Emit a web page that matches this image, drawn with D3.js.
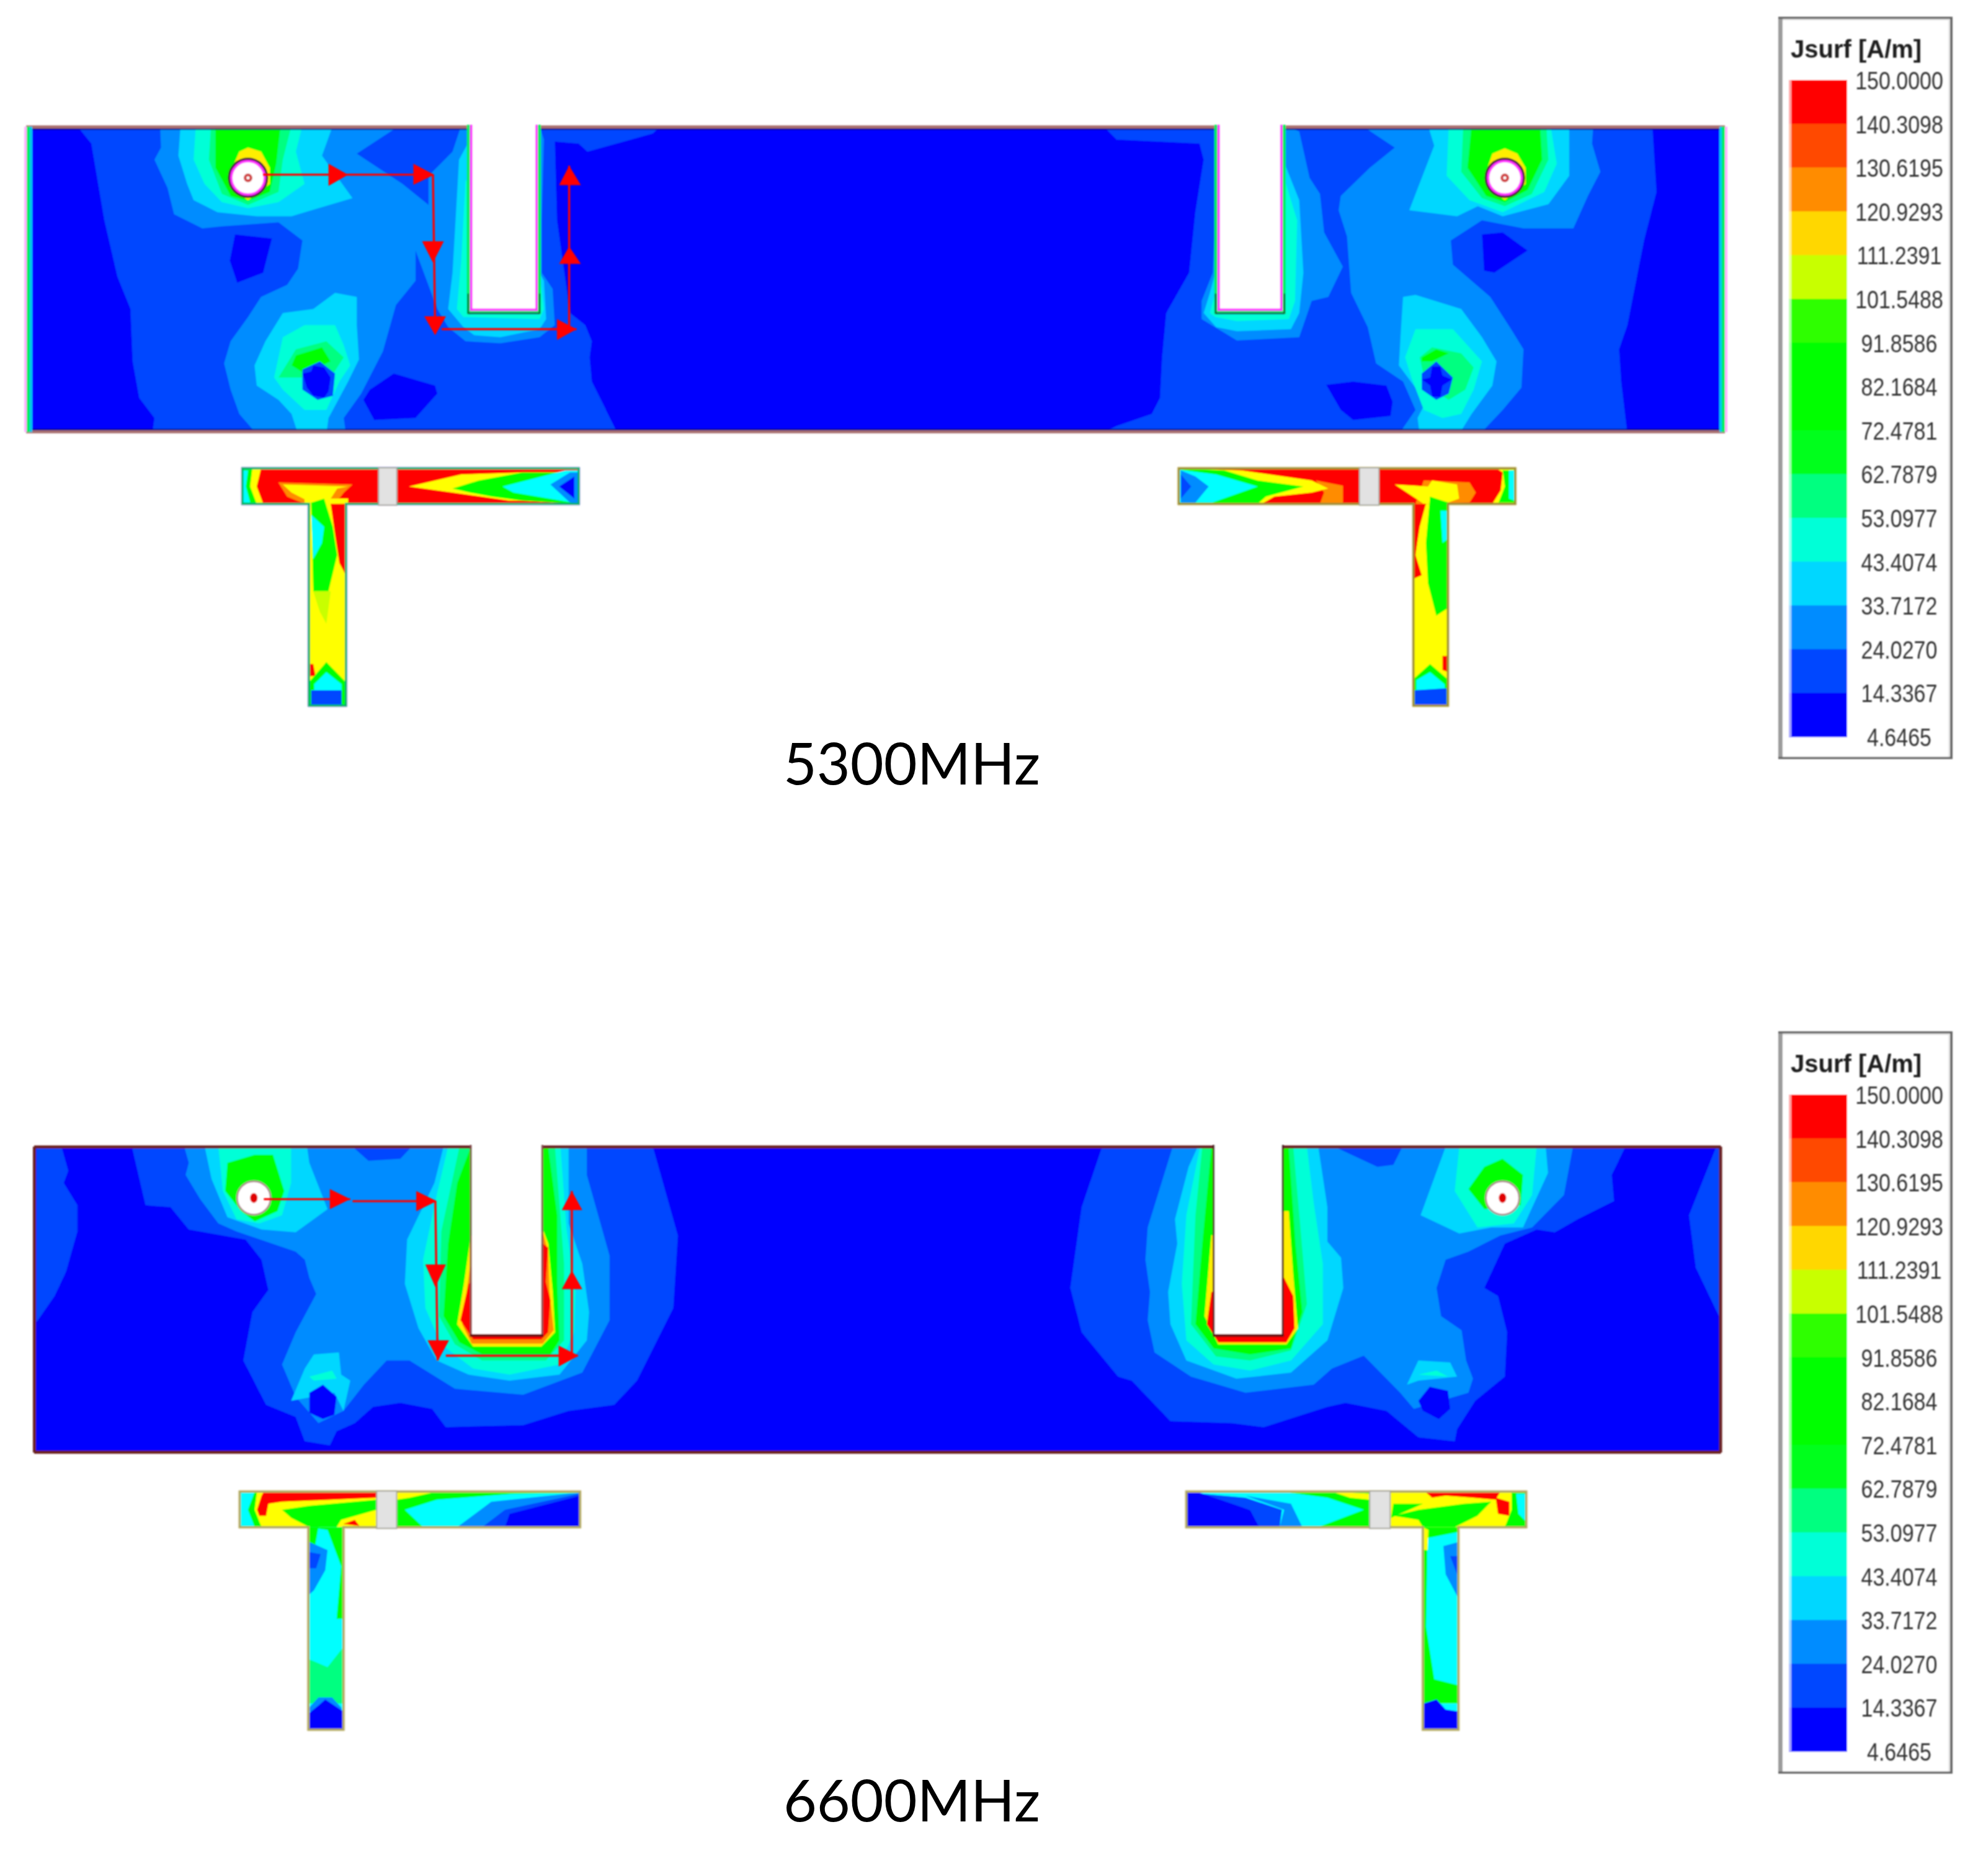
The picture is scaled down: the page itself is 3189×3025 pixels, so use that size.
<!DOCTYPE html>
<html><head><meta charset="utf-8">
<script src="https://cdn.jsdelivr.net/npm/d3@7"></script>
<style>html,body{margin:0;padding:0;background:#fff}svg{display:block}</style>
</head><body><div id="c"></div>
<script>
// Legend values and band colours (top to bottom)
const legendLabels=["150.0000","140.3098","130.6195","120.9293","111.2391","101.5488","91.8586","82.1684","72.4781","62.7879","53.0977","43.4074","33.7172","24.0270","14.3367","4.6465"];
const bandColors=["#ff0000","#ff4a00","#ff8c00","#ffd700","#c8ff00","#2dff00","#00ff00","#00ff00","#00ff1e","#00ff80","#00ffd7","#00d7ff","#008cff","#0046ff","#0000ff"];
const legendTitle="Jsurf [A/m]";
const freqLabels=["5300MHz","6600MHz"];
// contour level colours
const panelLevels=["#0000ff","#0046ff","#008cff","#00d7ff","#00ffd7","#00ff80","#00ff00","#2dff00","#e0e000","#ffee00","#ff8c00","#ff4a00","#ff0000"];
const teeLevels=["#0000ff","#0046ff","#008cff","#00ffff","#00ffd7","#00ff80","#00ff00","#2dff00","#c8ff00","#ffff00","#ff8c00","#ff4a00","#ff0000"];

// Contours: [level, [x,y, x,y, ...]] in traced units
const field5300L=[
[1,[180,70,210,110,240,300,270,440,300,520,305,650,320,740,355,790,350,830,1420,830,1360,700,1355,640,1360,600,1345,560,1310,530,1280,300,1275,105,1330,110,1350,130,1400,115,1500,85,1520,65]],
[0,[540,335,625,345,605,430,545,455,528,400]],
[0,[835,745,850,720,905,680,1000,710,1005,730,955,790,860,795]],
[2,[368,65,370,120,355,150,385,220,400,285,465,320,510,315,640,305,695,350,685,420,660,460,600,490,570,540,530,600,515,655,530,720,550,780,590,830,795,830,790,790,830,730,880,625,910,510,955,450,955,375,1005,520,1030,565,1070,600,1150,605,1240,590,1275,560,1270,470,1245,430,1245,300,1250,100,1240,65,1060,65,1040,130,985,190,985,262,925,210,820,135,905,75,900,65]],
[3,[415,65,410,140,430,210,445,250,500,280,590,290,670,290,810,245,740,140,765,65]],
[3,[610,600,650,530,720,520,770,480,820,490,820,560,825,645,800,700,755,790,750,830,685,830,670,780,640,745,590,710,585,660]],
[3,[1075,110,1055,150,1040,430,1030,520,1065,565,1090,585,1150,590,1240,570,1255,545,1250,450,1240,430,1240,200]],
[4,[450,65,445,150,470,210,510,255,570,270,640,255,700,210,680,130,695,65]],
[4,[650,590,700,560,770,560,790,610,805,660,780,700,750,770,700,770,650,720,630,690]],
[4,[1070,200,1060,400,1050,520,1065,540,1240,545,1250,520,1240,430]],
[5,[485,65,480,150,510,235,570,262,640,230,650,150,670,65]],
[5,[640,690,680,620,750,600,790,640,760,690,690,690]],
[6,[495,65,495,170,530,240,570,252,620,230,635,160,645,65]],
[6,[670,660,680,635,740,615,760,650,700,680]],
[9,[530,180,550,130,570,120,600,130,620,170,620,210,570,250,530,220]],
[1,[695,670,735,650,770,680,765,735,730,745,695,720]],
[0,[695,680,715,675,720,660,745,665,760,690,755,725,745,740,720,735,705,715]]
];
const field5300R=[
[1,[-33,65,0,100,200,110,210,150,190,280,175,430,120,530,110,640,105,740,85,780,0,810,-40,830,1230,830,1215,700,1210,620,1230,560,1270,350,1300,230,1290,65]],
[0,[880,335,930,330,990,375,910,430,885,425]],
[0,[505,708,570,700,650,710,665,750,660,785,570,795,540,770]],
[2,[590,65,670,120,610,170,540,240,535,275,555,340,565,480,605,565,625,655,690,700,720,770,680,830,875,830,930,770,975,715,980,620,950,570,900,490,810,410,805,350,880,300,980,320,1100,320,1135,240,1165,180,1145,110,1148,65]],
[2,[405,65,440,80,465,195,490,235,500,330,545,415,510,490,470,500,440,590,290,598,205,545,205,500,232,430,238,300]],
[3,[750,65,765,115,705,275,820,290,870,265,930,290,1040,260,1090,190,1090,65]],
[3,[690,490,720,485,830,520,880,590,915,650,905,710,855,780,825,830,730,830,725,790,745,750,680,660,685,570]],
[3,[405,160,440,250,450,430,440,530,420,570,290,575,240,565,210,530,225,480,238,430]],
[4,[800,65,795,190,850,250,930,280,1030,230,1060,160,1045,65]],
[4,[720,570,810,570,880,650,860,720,830,780,785,790,740,770,710,690,695,640]],
[4,[405,200,435,300,430,500,415,545,290,550,238,540,225,530,238,480]],
[5,[835,65,830,180,880,245,935,265,1000,235,1040,150,1035,65]],
[5,[730,640,760,615,830,630,860,665,840,720,800,745,745,710]],
[6,[855,65,845,170,890,240,935,255,990,225,1025,150,1020,65]],
[6,[735,640,770,620,800,630,760,650,735,650]],
[9,[890,180,905,135,935,122,965,135,985,170,985,210,935,250,895,220]],
[1,[735,680,770,650,810,690,800,730,770,745,735,720]],
[0,[735,695,755,690,760,662,780,662,785,685,808,695,785,710,780,738,760,738,755,710]]
];
const field6600L=[
[1,[80,60,135,60,150,120,140,150,170,205,170,270,145,370,120,430,80,495]],
[1,[290,60,320,205,375,210,415,265,540,290,575,340,590,415,555,470,535,590,585,700,650,730,670,790,725,800,740,765,780,745,820,705,880,695,950,710,980,755,1150,750,1250,715,1350,700,1400,640,1480,460,1490,280,1435,60]],
[2,[405,60,415,100,408,130,440,190,480,250,520,270,650,320,670,340,680,385,695,425,650,520,620,600,650,680,700,745,755,715,800,650,850,590,900,590,1000,660,1150,675,1280,620,1340,490,1340,330,1290,130,1290,60]],
[1,[775,60,905,60,880,90,810,95]],
[3,[450,60,465,140,500,235,575,265,650,272,720,215,680,100,675,60]],
[3,[655,650,670,610,690,575,745,570,750,625,770,640,755,715,735,670,640,690]],
[3,[975,60,955,150,895,290,890,400,920,510,960,590,1030,625,1120,640,1230,625,1290,540,1295,470,1280,350,1250,250,1250,60]],
[4,[480,60,490,170,520,240,570,250,620,230,640,150,640,60]],
[4,[680,630,730,615,740,635,690,640]],
[4,[985,60,960,180,930,340,935,460,970,550,1040,610,1120,625,1230,600,1262,520,1265,420,1245,260,1232,60]],
[5,[1010,60,970,270,965,480,1000,550,1060,590,1200,590,1240,540,1240,350,1220,60]],
[6,[500,100,495,170,530,220,560,245,610,220,625,170,600,80,560,80]],
[6,[1035,60,1005,150,985,300,975,480,1010,545,1060,575,1210,575,1230,540,1225,400,1225,230,1205,60]],
[9,[1035,280,1020,400,1005,500,1040,555,1190,555,1220,520,1215,420,1205,300,1195,270,1190,270]],
[10,[1033,360,1016,500,1037,548,1193,548,1217,515,1208,420,1205,320,1194,275]],
[12,[1030,400,1012,490,1040,538,1190,538,1205,520,1210,440,1200,395,1205,310,1193,300]],
[0,[680,670,710,650,740,680,735,725,710,735,680,720]]
];
const field6600R=[
[1,[105,60,60,210,35,410,60,520,140,630,170,640,255,740,390,745,460,755,600,705,640,695,730,715,800,780,880,790,885,760,925,690,990,630,995,520,975,430,945,410,990,300,1060,265,1100,272,1150,240,1230,195,1225,130,1255,60]],
[1,[1455,60,1395,230,1410,360,1465,490,1470,60]],
[2,[260,60,205,260,200,340,210,420,205,490,220,570,300,630,420,670,570,650,610,610,680,578,760,670,790,710,910,670,920,635,905,590,895,515,850,480,840,410,860,340,910,320,980,280,1050,260,1120,180,1140,60]],
[1,[615,60,765,60,745,105,710,110]],
[3,[860,60,805,230,890,275,960,260,1030,260,1085,125,1080,60]],
[3,[775,650,800,590,870,595,885,630,800,640]],
[3,[315,60,295,110,265,240,270,300,250,420,255,500,290,590,400,635,520,620,600,540,635,410,630,335,600,295,600,210,580,60]],
[4,[890,60,880,170,930,260,1010,250,1050,180,1060,60]],
[4,[800,625,840,615,865,630]],
[4,[320,60,290,230,280,400,290,540,350,600,430,615,520,590,590,500,590,350,570,200,555,60]],
[5,[325,60,310,230,300,500,355,580,430,590,520,565,555,450,540,250,525,60]],
[6,[945,110,910,165,945,215,1025,205,1030,130,985,90]],
[6,[345,60,325,300,310,500,350,560,430,575,520,560,545,470,530,300,515,60]],
[9,[345,280,330,480,360,550,510,550,535,510,525,380,515,220,505,220]],
[12,[345,420,335,500,360,545,510,545,528,510,525,430,505,385]],
[0,[800,690,825,655,865,665,870,710,845,735,810,715]]
];
const patchT1=[
[12,[557,915,870,915,870,1003,557,1003]],
[12,[912,915,1330,915,1330,1003,912,1003]],
[10,[640,950,810,955,790,975,770,1003,700,1003,660,985]],
[9,[650,955,800,960,775,965,760,990,715,1000,670,975]],
[9,[700,990,800,990,800,1510,700,1510]],
[6,[715,1000,745,990,765,1060,775,1130,755,1220,720,1220]],
[3,[715,1030,745,1060,740,1100,720,1140]],
[12,[760,1003,795,1003,795,1180,780,1150,770,1080]],
[8,[720,1220,760,1220,750,1300,735,1270]],
[12,[712,1400,720,1400,725,1430,712,1430]],
[6,[710,1445,750,1395,795,1445,795,1510,710,1510]],
[3,[722,1450,750,1420,785,1450,785,1470,722,1470]],
[1,[715,1465,785,1465,785,1510,715,1510]],
[9,[557,915,600,915,590,960,605,1003,557,1003]],
[6,[557,915,580,915,575,960,590,1003,557,1003]],
[3,[557,920,570,920,565,960,575,1000,557,1000]],
[9,[940,960,1060,930,1200,925,1330,925,1330,995,1170,995,1040,975]],
[6,[1040,965,1100,945,1200,925,1330,925,1330,1003,1200,995,1130,985,1080,975]],
[3,[1155,960,1300,920,1330,920,1330,1003,1290,995,1180,975]],
[2,[1265,955,1310,925,1330,925,1330,1003,1310,1000]],
[0,[1285,960,1320,935,1320,990]]
];
const patchT2=[
[12,[150,915,960,915,960,1003,150,1003]],
[10,[480,945,545,958,545,1003,490,1003,500,975]],
[9,[150,915,300,920,470,945,510,965,470,975,380,985,350,1003,150,1003]],
[6,[150,915,260,920,340,945,450,960,360,985,340,1003,150,1003]],
[3,[150,918,240,930,340,960,230,1000,150,1000]],
[2,[155,920,190,935,222,960,190,1000,155,1000]],
[1,[155,930,180,960,155,990]],
[10,[740,945,850,950,865,975,850,1000,720,1003]],
[9,[670,955,750,960,760,945,820,955,825,990,790,1003,740,1003]],
[9,[915,915,930,925,925,970,905,1003,960,1003,960,915]],
[6,[930,920,960,920,960,1000,920,1000,935,960]],
[3,[945,920,958,920,958,995,945,990]],
[9,[710,1003,800,1003,800,1510,710,1510]],
[12,[712,1003,745,1003,730,1060,720,1130,735,1180,712,1190]],
[6,[755,985,800,1000,800,1260,770,1280,750,1200,745,1100]],
[3,[780,1020,798,1020,798,1090,785,1100]],
[12,[785,1380,800,1380,800,1420,785,1415]],
[6,[712,1440,755,1400,800,1440,800,1510,712,1510]],
[3,[722,1440,755,1420,790,1450,790,1465,722,1465]],
[1,[718,1465,795,1460,795,1510,718,1510]]
];
const patchT3=[
[9,[527,915,828,915,828,1003,527,1003]],
[12,[580,915,828,915,828,930,620,940,590,945,585,975,570,975,565,960,575,925]],
[6,[620,960,680,950,828,935,828,960,750,985,740,1003,680,1003,640,980]],
[12,[755,995,780,985,790,1000]],
[6,[550,915,565,915,560,960,575,1003,540,1003]],
[3,[527,915,560,915,545,960,560,1003,527,1003]],
[6,[872,915,1275,915,1275,1003,872,1003]],
[9,[872,915,960,915,900,930,872,935]],
[3,[890,960,960,935,1130,920,1275,918,1275,1003,930,1003]],
[2,[1005,1003,1080,940,1250,920,1275,918,1275,1003]],
[1,[1060,1003,1110,960,1275,920,1275,1003]],
[0,[1110,1003,1120,970,1275,925,1275,1003]],
[3,[678,1003,755,1003,755,1510,678,1510]],
[6,[678,1003,755,1003,755,1230,740,1230,750,1100,720,1010]],
[6,[678,1003,700,1003,685,1100,678,1180]],
[2,[680,1040,720,1060,715,1110,690,1160,680,1170]],
[1,[680,1065,705,1070,695,1105,680,1105]],
[5,[678,1330,720,1350,755,1300,755,1440,678,1440]],
[2,[680,1450,700,1425,730,1425,750,1450,752,1460,680,1460]],
[0,[678,1465,700,1445,715,1430,755,1460,755,1510,678,1510]]
];
const patchT4=[
[3,[290,915,693,915,693,1003,290,1003]],
[6,[500,915,693,915,693,1003,580,1003,680,960,600,930]],
[9,[610,915,693,920,693,935,650,930]],
[2,[420,925,520,945,545,1003,495,1003,505,960]],
[1,[320,920,420,930,500,960,495,1003,440,1003,430,960]],
[0,[290,915,320,918,430,960,450,1003,290,1003]],
[9,[738,915,1037,915,1037,1003,738,1003]],
[6,[745,945,810,945,740,980]],
[6,[745,975,800,960,900,945,960,940,930,975,880,1003,810,1003,800,985]],
[12,[815,915,980,915,970,935,920,930,860,925,830,930]],
[12,[970,930,1000,940,1000,975,975,970]],
[6,[990,1003,1005,960,1005,915,1037,915,1037,1003]],
[3,[1015,920,1037,920,1037,990,1020,970]],
[6,[810,1003,888,1003,888,1440,810,1440]],
[3,[820,1030,888,1015,888,1395,835,1380,817,1250]],
[9,[810,1003,822,1010,820,1060,810,1060]],
[2,[855,1050,888,1040,888,1180,860,1120]],
[1,[870,1075,888,1075,885,1120]],
[3,[810,1440,888,1440,888,1510,810,1510]],
[0,[812,1440,840,1430,860,1455,888,1460,888,1510,810,1510]]
];
const currentPath5300=[[605,187,995,187],[995,187,1000,565],[1015,570,1325,570],[1308,570,1308,165]];
const arrowHeads5300=[[755,160,755,215,800,187],[950,160,950,212,998,187],[970,352,1020,352,995,405],[975,538,1025,538,1000,585],[1280,545,1280,597,1325,570],[1285,213,1335,213,1308,165],[1285,408,1335,408,1308,365]];
const currentPath6600=[[580,190,770,190],[775,195,957,195],[957,195,962,590],[980,578,1270,578],[1257,578,1257,170]];
const arrowHeads6600=[[725,165,725,215,770,190],[915,170,915,220,960,195],[935,352,980,352,957,408],[940,540,987,540,963,590],[1228,553,1228,605,1272,578],[1235,217,1280,217,1257,170],[1235,413,1280,413,1257,367]];

const W=3189,H=3025;
const svg=d3.select("#c").append("svg").attr("width",W).attr("height",H).attr("viewBox",[0,0,W,H]);
const defs=svg.append("defs");
defs.append("filter").attr("id","soft").attr("x","-5%").attr("y","-5%").attr("width","110%").attr("height","110%")
  .append("feGaussianBlur").attr("stdDeviation",1.3);
defs.append("filter").attr("id","softText").attr("x","-10%").attr("y","-30%").attr("width","120%").attr("height","160%")
  .append("feGaussianBlur").attr("stdDeviation",0.9);
svg.append("rect").attr("width",W).attr("height",H).attr("fill","#fff");

const crop=(ox,oy,w,h)=>({x:d3.scaleLinear([0,1568],[ox,ox+w]),y:d3.scaleLinear([0,1568],[oy,oy+h])});
const c1=crop(0,160,1100,1020),c2=crop(1800,160,1050,1020),c3=crop(0,1810,1150,1020),c4=crop(1700,1810,1150,1020);
const toPts=(f,c)=>d3.range(0,f.length,2).map(i=>[c.x(f[i]),c.y(f[i+1])]);
const line=d3.line().curve(d3.curveLinearClosed);
const paint=(g,layers,c,cols)=>g.selectAll(null).data(layers).join("path")
  .attr("d",d=>line(toPts(d[1],c))).attr("fill",d=>cols[d[0]]);
let clipId=0;
function clipRect(x,y,w,h){const id="cl"+(clipId++);defs.append("clipPath").attr("id",id).append("rect").attr("x",x).attr("y",y).attr("width",w).attr("height",h);return id;}
function clipPoly(pts){const id="cl"+(clipId++);defs.append("clipPath").attr("id",id).append("path").attr("d",line(pts));return id;}

function panel(p){
  const root=svg.append("g").attr("filter","url(#soft)");
  const x0=p.cL.x(p.left),x1=p.cR.x(p.right),y0=p.cL.y(p.top),y1=p.cL.y(p.bottom);
  const body=root.append("g").attr("clip-path",`url(#${clipRect(x0,y0,x1-x0,y1-y0)})`);
  body.append("rect").attr("x",x0).attr("y",y0).attr("width",x1-x0).attr("height",y1-y0).attr("fill",panelLevels[0]);
  paint(body.append("g"),p.fL,p.cL,panelLevels);paint(body.append("g"),p.fR,p.cR,panelLevels);
  const R=(x,y,w,h,f)=>root.append("rect").attr("x",x).attr("y",y).attr("width",w).attr("height",h).attr("fill",f);
  R(x0,y0-2,x1-x0,5,p.edgeH);
  R(x0,y1-3,x1-x0,5,p.edgeH);
  if(p.rainbow){
    R(x0,y0+3,x1-x0,2,"#0a0a70");R(x0,y1-5,x1-x0,2,"#0a0a70");
    R(x0-3,y0,4,y1-y0,"#ffb0ff");R(x0+1,y0,5,y1-y0,"#00f060");R(x0+6,y0,4,y1-y0,"#00c8f0");
    R(x1-9,y0,4,y1-y0,"#00c8f0");R(x1-5,y0,5,y1-y0,"#00f060");R(x1,y0,4,y1-y0,"#ffb0ff");
  } else {
    R(x0-2,y0,5,y1-y0,p.edgeH);R(x1-3,y0,5,y1-y0,p.edgeH);
  }
  p.slots.forEach(s=>{
    const c=s.c,a=c.x(s.l),b=c.x(s.r),t=c.y(p.top)-3,e=c.y(s.b);
    R(a,t,b-a,e-t,"#fff");
    if(p.rainbow){
      R(a-5,t,5,e-t+5,"#00f060");R(a,t,4,e-t,"#ff30ff");
      R(b-4,t,4,e-t,"#ff30ff");R(b,t,5,e-t+5,"#00f060");
      R(a,e-4,b-a,4,"#ff30ff");R(a-3,e,b-a+6,3,"#00e060");R(a-3,e+3,b-a+6,2,"#103030");
      R(a-4,e-28,2,32,"#103030");R(b+2,e-28,2,32,"#103030");
    } else {
      R(a-3,t,3,e-t+3,s.edgeL);R(b,t,3,e-t+3,s.edgeR);R(a-3,e,b-a+6,4,"#601010");
    }
  });
  p.vias.forEach(v=>{
    const c=v.c,cx=c.x(v.x),cy=c.y(v.y),r=v.r;
    const g=root.append("g");
    if(p.rainbow){
      g.append("circle").attr("cx",cx).attr("cy",cy).attr("r",r+3).attr("fill","none").attr("stroke","#402030").attr("stroke-width",5);
      g.append("circle").attr("cx",cx).attr("cy",cy).attr("r",r).attr("fill","#fff").attr("stroke","#ff30ff").attr("stroke-width",4);
      g.append("circle").attr("cx",cx).attr("cy",cy).attr("r",7).attr("fill","#d04040");
      g.append("circle").attr("cx",cx).attr("cy",cy).attr("r",2.5).attr("fill","#fff");
    } else {
      g.append("circle").attr("cx",cx).attr("cy",cy).attr("r",r).attr("fill","#fff").attr("stroke","#b09090").attr("stroke-width",3);
      g.append("ellipse").attr("cx",cx).attr("cy",cy).attr("rx",6).attr("ry",8).attr("fill","#e00000");
    }
  });
  // red current arrows
  const a=svg.append("g").attr("filter","url(#softText)");
  a.selectAll(null).data(p.path).join("line")
    .attr("x1",d=>p.cL.x(d[0])).attr("y1",d=>p.cL.y(d[1])).attr("x2",d=>p.cL.x(d[2])).attr("y2",d=>p.cL.y(d[3]))
    .attr("stroke","#ff0000").attr("stroke-width",3.4);
  a.selectAll(null).data(p.heads).join("path").attr("d",d=>line(toPts(d,p.cL))).attr("fill","#ff0000");
}
function tee(t){
  const c=t.c,bx0=c.x(t.x0),bx1=c.x(t.x1),by0=c.y(t.y0),by1=c.y(t.y1),sx0=c.x(t.sx0),sx1=c.x(t.sx1),sy1=c.y(t.sy1);
  const pts=[[bx0,by0],[bx1,by0],[bx1,by1],[sx1,by1],[sx1,sy1],[sx0,sy1],[sx0,by1],[bx0,by1]];
  const root=svg.append("g").attr("filter","url(#soft)");
  root.append("path").attr("d",line(pts)).attr("fill",t.halo).attr("stroke",t.halo).attr("stroke-width",6).attr("stroke-linejoin","round");
  const g=root.append("g").attr("clip-path",`url(#${clipPoly(pts)})`);
  paint(g,t.layers,c,teeLevels);
  root.append("path").attr("d",line(pts)).attr("fill","none").attr("stroke",t.edge).attr("stroke-width",3.5);
  const gx0=c.x(t.g0),gx1=c.x(t.g1);
  root.append("rect").attr("x",gx0).attr("y",by0-1).attr("width",gx1-gx0).attr("height",by1-by0+3).attr("fill","#e2e2e2").attr("stroke","#a8a8a0").attr("stroke-width",2);
}
function legend(dy){
  const g=svg.append("g").attr("transform",`translate(0,${dy})`);
  const lx0=2867,lx1=3148,ly0=27,ly1=1224;
  const box=g.append("g").attr("filter","url(#softText)");
  const R=(x,y,w,h,f)=>box.append("rect").attr("x",x).attr("y",y).attr("width",w).attr("height",h).attr("fill",f);
  R(lx0,ly0,lx1-lx0,ly1-ly0,"#fff");
  R(lx0,ly0+3,lx1-lx0,3,"#e8e8e8");
  R(lx1-7,ly0,4,ly1-ly0,"#e8e8e8");
  R(lx0,ly0,7,ly1-ly0,"#9c9c9c");
  R(lx1-4,ly0,4,ly1-ly0,"#666");
  R(lx0,ly0,lx1-lx0,3.5,"#666");
  R(lx0,ly1-3.5,lx1-lx0,3.5,"#666");
  const bandScale=d3.scaleLinear([0,15],[129,1188]);
  box.selectAll(null).data(bandColors).join("rect").attr("x",2884).attr("width",94)
    .attr("y",(d,i)=>bandScale(i)).attr("height",(d,i)=>bandScale(i+1)-bandScale(i)+0.5).attr("fill",d=>d);
  R(2884,129,4,1059,"#ffffff").attr("fill-opacity",0.65);
  const t=g.append("g").attr("filter","url(#softText)").attr("font-family","'Liberation Sans',Arial,sans-serif").attr("fill","#1c1c1c");
  t.append("text").attr("x",2887).attr("y",93).attr("font-size",40).attr("font-weight",700).text(legendTitle);
  t.selectAll(null).data(legendLabels).join("text")
    .attr("transform",(d,i)=>`translate(3062,${bandScale(i)+15}) scale(1,1.18)`)
    .attr("font-size",34).attr("text-anchor","middle").attr("fill","#333").text(d=>d);
}

panel({cL:c1,cR:c2,left:60,right:1465,top:68,bottom:825,edgeH:"#a87070",rainbow:true,fL:field5300L,fR:field5300R,
  slots:[{c:c1,l:1080,r:1236,b:525},{c:c2,l:243,r:400,b:525}],
  vias:[{c:c1,x:570,y:195,r:27},{c:c2,x:935,y:195,r:27}],path:currentPath5300,heads:arrowHeads5300});
panel({cL:c3,cR:c4,left:75,right:1465,top:60,bottom:818,edgeH:"#6a2020",rainbow:false,fL:field6600L,fR:field6600R,
  slots:[{c:c3,l:1037,r:1190,b:525,edgeL:"#8a5050",edgeR:"#8a5050"},{c:c4,l:352,r:500,b:525,edgeL:"#502020",edgeR:"#502020"}],
  vias:[{c:c3,x:558,y:187,r:27},{c:c4,x:985,y:187,r:27}],path:currentPath6600,heads:arrowHeads6600});
tee({c:c1,x0:557,x1:1330,y0:915,y1:1003,sx0:710,sx1:795,sy1:1503,g0:870,g1:912,layers:patchT1,edge:"#00b070",halo:"#ddd0ff"});
tee({c:c2,x0:150,x1:960,y0:915,y1:1003,sx0:715,sx1:798,sy1:1503,g0:585,g1:632,layers:patchT2,edge:"#a09030",halo:"#efe9c0"});
tee({c:c3,x0:527,x1:1275,y0:915,y1:1003,sx0:678,sx1:755,sy1:1505,g0:828,g1:872,layers:patchT3,edge:"#b0a860",halo:"#f2ecd0"});
tee({c:c4,x0:290,x1:1037,y0:915,y1:1003,sx0:810,sx1:888,sy1:1505,g0:693,g1:738,layers:patchT4,edge:"#b0a860",halo:"#f2ecd0"});
legend(0);legend(1636);
svg.append("g").attr("font-family","Lato,'Noto Sans',sans-serif").attr("fill","#000").attr("font-size",93).attr("text-anchor","middle")
  .selectAll("text").data(freqLabels).join("text").attr("x",1470).attr("y",(d,i)=>[1265,2937][i]).text(d=>d);
</script></body></html>
